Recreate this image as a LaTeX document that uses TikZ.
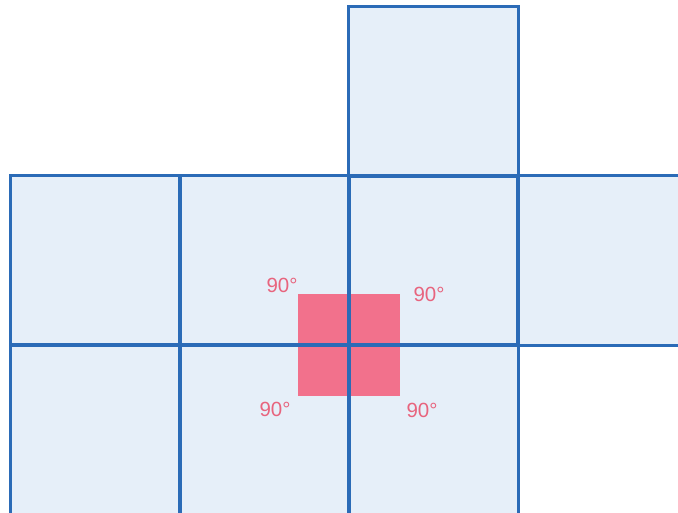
\documentclass[tikz,border=0pt]{standalone}
\usepackage{fontspec}
\setmainfont{Liberation Sans}
\usepackage{xcolor}
\usetikzlibrary{positioning}
\definecolor{gridBlue}{HTML}{2B6BB7}
\definecolor{cellFill}{HTML}{E6EFF9}
\definecolor{anglePink}{HTML}{F2718C}
\definecolor{labelPink}{HTML}{E8647E}
\tikzset{
  cellBox/.style={
    rectangle,
    fill=cellFill,
    inner sep=0pt,
    minimum size=169pt
  },
  cellEdge/.style={
    draw=gridBlue,
    line width=2.8pt
  },
  angleBox/.style={
    rectangle,
    fill=anglePink,
    inner sep=0pt,
    minimum size=102pt
  },
  angleLabel/.style={
    text=labelPink,
    font=\fontsize{20.5}{22}\selectfont,
    inner sep=0pt
  }
}

\begin{document}
\begin{tikzpicture}[x=1pt,y=-1pt]
        \useasboundingbox (0,0) rectangle (678,513);
        \clip (0,0) rectangle (678,513);

        % squares of the net
        \node[cellBox] (top) at (433.5,91.5) {};
        \node[cellBox] (midA) at (95.5,260.5) {};
        \node[cellBox] (midB) at (264.5,260.5) {};
        \node[cellBox] (midC) at (433.5,260.5) {};
        \node[cellBox] (midD) at (602.5,260.5) {};
        \node[cellBox] (lowA) at (95.5,429.5) {};
        \node[cellBox] (lowB) at (264.5,429.5) {};
        \node[cellBox] (lowC) at (433.5,429.5) {};

        % the four right angles meeting at one corner
        \node[angleBox] (corner) at (349,345) {};

        \foreach \c in {top,midA,midB,midC,midD,lowA,lowB,lowC}
          \draw[cellEdge] (\c.south west) rectangle (\c.north east);

        \node[angleLabel] (angNW) at (282,285) {90°};
        \node[angleLabel] (angNE) at (429,294) {90°};
        \node[angleLabel] (angSW) at (275,409) {90°};
        \node[angleLabel] (angSE) at (422,410) {90°};
    \end{tikzpicture}
\end{document}
